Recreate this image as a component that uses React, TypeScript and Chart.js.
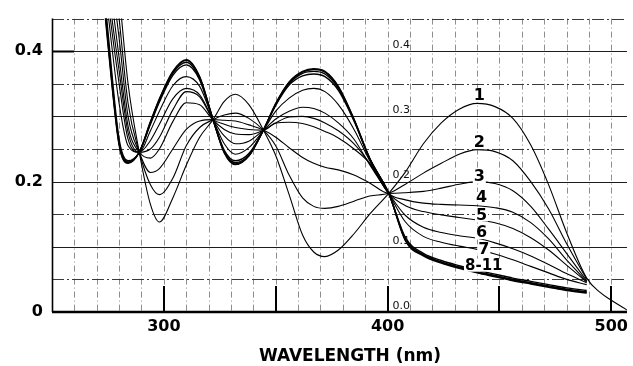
import React, { useEffect, useRef } from 'react';
import { Chart, registerables } from 'chart.js';

Chart.register(...registerables);

// ---- data ----
const wavelengths = [270, 275, 280, 284, 289, 294, 298, 304, 310, 316, 322, 327, 332, 338, 344.5, 350, 356, 362, 367, 372, 378, 385, 392, 400.5, 408, 416, 424, 432, 440, 448, 456, 464, 472, 480, 489, 495, 500, 507];

const curve1 = [0.85, 0.66, 0.49, 0.35, 0.245, 0.165, 0.138, 0.175, 0.225, 0.268, 0.295, 0.323, 0.334, 0.318, 0.279, 0.24, 0.18, 0.118, 0.092, 0.085, 0.095, 0.12, 0.15, 0.182, 0.215, 0.258, 0.29, 0.311, 0.32, 0.315, 0.297, 0.256, 0.195, 0.122, 0.052, 0.03, 0.018, 0.003];
const curve2 = [0.78, 0.6, 0.45, 0.32, 0.245, 0.195, 0.18, 0.205, 0.255, 0.283, 0.295, 0.302, 0.305, 0.297, 0.279, 0.255, 0.21, 0.175, 0.162, 0.159, 0.162, 0.17, 0.178, 0.182, 0.196, 0.213, 0.228, 0.242, 0.249, 0.246, 0.232, 0.2, 0.158, 0.105, 0.05, null, null, null];
const curve3 = [0.74, 0.56, 0.42, 0.3, 0.245, 0.214, 0.22, 0.25, 0.28, 0.293, 0.295, 0.294, 0.293, 0.287, 0.279, 0.268, 0.252, 0.237, 0.228, 0.222, 0.218, 0.21, 0.198, 0.182, 0.183, 0.185, 0.19, 0.196, 0.2, 0.197, 0.186, 0.162, 0.127, 0.09, 0.048, null, null, null];
const curve4 = [0.7, 0.53, 0.39, 0.285, 0.245, 0.236, 0.25, 0.292, 0.321, 0.318, 0.295, 0.288, 0.283, 0.28, 0.279, 0.29, 0.291, 0.289, 0.284, 0.277, 0.267, 0.25, 0.228, 0.182, 0.172, 0.167, 0.165, 0.164, 0.163, 0.16, 0.153, 0.137, 0.112, 0.08, 0.047, null, null, null];
const curve5 = [0.67, 0.5, 0.37, 0.275, 0.245, 0.25, 0.268, 0.31, 0.338, 0.33, 0.295, 0.28, 0.273, 0.272, 0.279, 0.29, 0.299, 0.3, 0.297, 0.29, 0.278, 0.258, 0.228, 0.182, 0.163, 0.154, 0.149, 0.145, 0.141, 0.137, 0.128, 0.114, 0.095, 0.072, 0.046, null, null, null];
const curve6 = [0.64, 0.48, 0.35, 0.265, 0.245, 0.263, 0.288, 0.327, 0.343, 0.333, 0.295, 0.27, 0.258, 0.262, 0.279, 0.296, 0.308, 0.314, 0.312, 0.305, 0.29, 0.265, 0.226, 0.182, 0.148, 0.13, 0.122, 0.117, 0.113, 0.106, 0.097, 0.086, 0.073, 0.059, 0.045, null, null, null];
const curve7 = [0.62, 0.46, 0.32, 0.255, 0.245, 0.278, 0.308, 0.347, 0.361, 0.346, 0.295, 0.258, 0.242, 0.252, 0.279, 0.308, 0.328, 0.34, 0.343, 0.338, 0.318, 0.28, 0.232, 0.182, 0.138, 0.116, 0.107, 0.101, 0.096, 0.089, 0.08, 0.07, 0.06, 0.05, 0.042, null, null, null];
const curve8 = [0.61, 0.43, 0.265, 0.232, 0.245, 0.288, 0.322, 0.363, 0.379, 0.356, 0.295, 0.248, 0.232, 0.243, 0.279, 0.317, 0.348, 0.362, 0.365, 0.361, 0.34, 0.293, 0.235, 0.182, 0.114, 0.09, 0.079, 0.071, 0.064, 0.058, 0.052, 0.047, 0.042, 0.037, 0.033, null, null, null];
const curve9 = [0.6, 0.42, 0.26, 0.23, 0.245, 0.29, 0.324, 0.366, 0.383, 0.358, 0.295, 0.246, 0.229, 0.241, 0.279, 0.318, 0.35, 0.366, 0.369, 0.365, 0.343, 0.294, 0.235, 0.182, 0.112, 0.088, 0.077, 0.069, 0.062, 0.056, 0.05, 0.045, 0.04, 0.035, 0.031, null, null, null];
const curve10 = [0.6, 0.415, 0.258, 0.229, 0.245, 0.291, 0.326, 0.368, 0.386, 0.36, 0.295, 0.245, 0.227, 0.24, 0.279, 0.319, 0.352, 0.368, 0.372, 0.368, 0.345, 0.295, 0.235, 0.182, 0.11, 0.087, 0.076, 0.068, 0.061, 0.055, 0.049, 0.044, 0.039, 0.034, 0.03, null, null, null];
const curve11 = [0.59, 0.41, 0.256, 0.228, 0.245, 0.292, 0.327, 0.369, 0.387, 0.361, 0.295, 0.244, 0.226, 0.239, 0.279, 0.32, 0.353, 0.369, 0.373, 0.369, 0.346, 0.296, 0.236, 0.182, 0.109, 0.086, 0.075, 0.067, 0.06, 0.054, 0.048, 0.043, 0.038, 0.033, 0.029, null, null, null];

const seriesNames = ['1', '2', '3', '4', '5', '6', '7', '8', '9', '10', '11'];
const seriesValues = [curve1, curve2, curve3, curve4, curve5, curve6, curve7, curve8, curve9, curve10, curve11];

const curveLabels = ['1', '2', '3', '4', '5', '6', '7', '8-11'];
const curveLabelX = [441, 441, 441, 442, 442, 442, 443, 443];
const curveLabelY = [0.331, 0.259, 0.207, 0.175, 0.148, 0.121, 0.095, 0.071];

const innerScaleLabels = ['0.4', '0.3', '0.2', '0.1', '0.0'];
const innerScaleValues = [0.4, 0.3, 0.2, 0.1, 0];

const xTickValues = [250, 300, 350, 400, 450, 500];
const xTickLabels = [300, 400, 500];
const yTickLabels = [0, 0.2, 0.4];
const majorTicks = [300, 350, 400, 450, 500];

const X_MIN = 250;
const X_MAX = 507;
const Y_MIN = 0;
const Y_MAX = 0.45;

const paperPlugin = {
  id: 'paper',
  beforeDatasetsDraw(chart: any) {
    const { ctx, chartArea: ca, scales } = chart;
    const xs = scales.x;
    const ys = scales.y;
    ctx.save();
    ctx.lineWidth = 1;
    ctx.strokeStyle = '#8e8e8e';
    ctx.setLineDash([6, 3, 1, 3]);
    for (let w = 260; w <= 500; w += 10) {
      const px = Math.round(xs.getPixelForValue(w)) + 0.5;
      ctx.beginPath();
      ctx.moveTo(px, ca.top);
      ctx.lineTo(px, ca.bottom);
      ctx.stroke();
    }
    for (let k = 1; k <= 9; k++) {
      const v = k * 0.05;
      const py = Math.round(ys.getPixelForValue(v)) + 0.5;
      if (k % 2 === 0) {
        ctx.setLineDash([]);
        ctx.strokeStyle = '#1c1c1c';
        ctx.lineWidth = 1.2;
      } else {
        ctx.setLineDash([12, 3, 2, 3]);
        ctx.strokeStyle = '#3a3a3a';
        ctx.lineWidth = 1;
      }
      ctx.beginPath();
      ctx.moveTo(ca.left, py);
      ctx.lineTo(ca.right, py);
      ctx.stroke();
    }
    ctx.restore();
  },
  afterDatasetsDraw(chart: any) {
    const { ctx, chartArea: ca, scales } = chart;
    const xs = scales.x;
    const ys = scales.y;
    ctx.save();
    ctx.setLineDash([]);
    ctx.strokeStyle = '#000';
    ctx.lineWidth = 1.6;
    ctx.beginPath();
    ctx.moveTo(ca.left + 0.5, ca.top);
    ctx.lineTo(ca.left + 0.5, ca.bottom);
    ctx.stroke();
    ctx.lineWidth = 2.5;
    ctx.beginPath();
    ctx.moveTo(ca.left, ca.bottom);
    ctx.lineTo(ca.right, ca.bottom);
    ctx.stroke();
    ctx.lineWidth = 2;
    majorTicks.forEach((w) => {
      const px = Math.round(xs.getPixelForValue(w));
      ctx.beginPath();
      ctx.moveTo(px, ca.bottom);
      ctx.lineTo(px, ca.bottom - 26);
      ctx.stroke();
    });
    const p04 = Math.round(ys.getPixelForValue(0.4)) + 0.5;
    ctx.beginPath();
    ctx.moveTo(ca.left, p04);
    ctx.lineTo(ca.left + 22, p04);
    ctx.stroke();

    ctx.fillStyle = '#111';
    ctx.font = '11px "DejaVu Sans"';
    ctx.textAlign = 'left';
    ctx.textBaseline = 'middle';
    const ix = xs.getPixelForValue(400) + 5;
    innerScaleLabels.forEach((t, i) => {
      ctx.fillText(t, ix, ys.getPixelForValue(innerScaleValues[i]) - 6);
    });

    ctx.textAlign = 'center';
    curveLabels.forEach((t, i) => {
      ctx.font = t.length > 1 ? 'bold 15px "DejaVu Sans"' : 'bold 16px "DejaVu Sans"';
      const px = xs.getPixelForValue(curveLabelX[i]);
      const py = ys.getPixelForValue(curveLabelY[i]);
      ctx.fillStyle = '#fff';
      const wdt = ctx.measureText(t).width;
      ctx.fillRect(px - wdt / 2 - 1, py - 6, wdt + 2, 12);
      ctx.fillStyle = '#000';
      ctx.fillText(t, px, py);
    });

    ctx.font = 'bold 17px "DejaVu Sans"';
    ctx.textAlign = 'center';
    ctx.textBaseline = 'middle';
    ctx.fillStyle = '#000';
    ctx.fillText('WAVELENGTH (nm)', 350, 357);
    ctx.restore();
  },
};

export default function App() {
  const canvasRef = useRef<HTMLCanvasElement | null>(null);

  useEffect(() => {
    document.body.style.margin = '0';
    const canvas = canvasRef.current;
    if (!canvas) return;

    const datasets = seriesValues.map((vals, i) => ({
      label: seriesNames[i],
      data: wavelengths
        .map((w, j) => (vals[j] === null ? null : { x: w, y: vals[j] as number }))
        .filter((p) => p !== null),
      borderColor: '#000',
      borderWidth: i >= 7 ? 1.4 : 1.1,
      pointRadius: 0,
      fill: false,
      cubicInterpolationMode: 'monotone' as const,
    }));

    const chart = new Chart(canvas, {
      type: 'line',
      data: { datasets },
      options: {
        responsive: false,
        animation: false,
        devicePixelRatio: 1,
        layout: { padding: { top: 14, right: 0, left: 0, bottom: 0 } },
        plugins: {
          legend: { display: false },
          tooltip: { enabled: false },
          title: { display: false },
        },
        scales: {
          x: {
            type: 'linear',
            min: X_MIN,
            max: X_MAX,
            grid: { display: false, drawTicks: false },
            border: { display: false },
            afterBuildTicks: (s: any) => {
              s.ticks = xTickValues.map((v) => ({ value: v }));
            },
            ticks: {
              autoSkip: false,
              maxRotation: 0,
              padding: 5,
              color: '#000',
              font: { family: '"DejaVu Sans"', size: 16, weight: 'bold' },
              callback: (v: any) => (xTickLabels.includes(Number(v)) ? String(v) : ''),
            },
            afterFit: (s: any) => {
              s.height = 54;
            },
          },
          y: {
            type: 'linear',
            min: Y_MIN,
            max: Y_MAX,
            grid: { display: false, drawTicks: false },
            border: { display: false },
            ticks: {
              stepSize: 0.05,
              autoSkip: false,
              padding: 9,
              color: '#000',
              font: { family: '"DejaVu Sans"', size: 16, weight: 'bold' },
              callback: (v: any) => {
                const n = Math.round(Number(v) * 100) / 100;
                return yTickLabels.includes(n) ? (n === 0 ? '0' : n.toFixed(1)) : '';
              },
            },
            afterFit: (s: any) => {
              s.width = 52;
            },
          },
        },
      },
      plugins: [paperPlugin],
    });

    return () => chart.destroy();
  }, []);

  return (
    <div style={{ width: 633, height: 366, background: '#fff' }}>
      <canvas ref={canvasRef} width={633} height={366} style={{ display: 'block' }} />
    </div>
  );
}
